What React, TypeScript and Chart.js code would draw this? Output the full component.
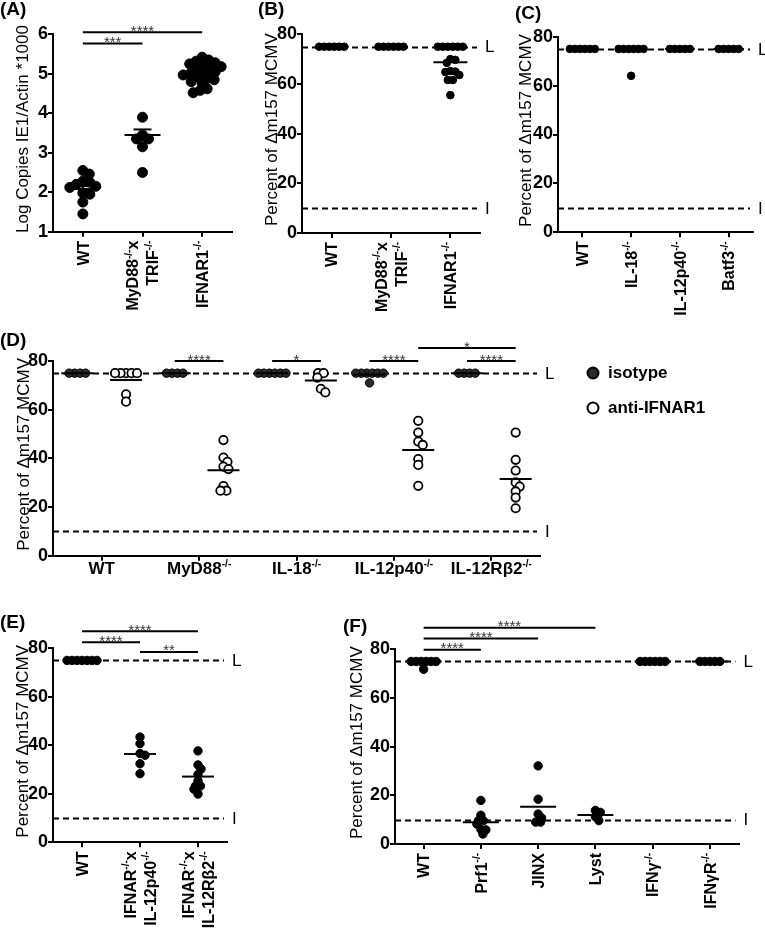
import React, { useEffect, useRef } from "react";
import { Chart, registerables } from "chart.js";
Chart.register(...registerables);

const FONT = "'Liberation Sans', Arial, Helvetica, sans-serif";

// ---------------- data ----------------
// Panel A – Log copies IE1/Actin *1000
const catsA = ["WT", "MyD88{-/-}x|TRIF{-/-}", "IFNAR1{-/-}"];
const aWT = [2.55, 2.46, 2.28, 2.25, 2.2, 2.15, 2.12, 1.98, 1.95, 1.75, 1.45];
const aMyD88TRIF = [3.9, 3.45, 3.35, 3.35, 3.15, 2.5];
const aIFNAR1 = [5.42, 5.35, 5.32, 5.28, 5.25, 5.2, 5.18, 5.12, 5.1, 5.05, 5.02, 5.0, 4.97, 4.92, 4.88, 4.85, 4.8, 4.75, 4.62, 4.58, 4.52];
const meanA = [2.16, 3.45, 5.05];
const semA = [0.08, 0.14, 0.05];
const sigA: [number, number, number, string][] = [[1, 2, 5.77, "***"], [1, 3, 6.05, "****"]];

// Panel B
const catsB = ["WT", "MyD88{-/-}x|TRIF{-/-}", "IFNAR1{-/-}"];
const bWT = [75, 75, 75, 75, 75, 75];
const bMyD88TRIF = [75, 75, 75, 75, 75, 75];
const bIFNAR1 = [75, 75, 75, 75, 75, 75, 70, 69.7, 68.5, 65.2, 65, 64.8, 63.6, 61.6, 61.6, 55.5];
const meanB = [75, 75, 68.7];

// Panel C
const catsC = ["WT", "IL-18{-/-}", "IL-12p40{-/-}", "Batf3{-/-}"];
const cWT = [75, 75, 75, 75, 75, 75];
const cIL18 = [75, 75, 75, 75, 75, 75, 64];
const cIL12p40 = [75, 75, 75, 75, 75];
const cBatf3 = [75, 75, 75, 75, 75];
const meanC = [75, 74.2, 75, 75];

// Panel D
const catsD = ["WT", "MyD88{-/-}", "IL-18{-/-}", "IL-12p40{-/-}", "IL-12Rβ2{-/-}"];
const dIsotype = [
  [75, 75, 75, 75],
  [75, 75, 75, 75],
  [75, 75, 75, 75, 75, 75],
  [75, 75, 75, 75, 75, 75, 71],
  [75, 75, 75, 75],
];
const dAntiIFNAR1 = [
  [75, 75, 75, 75, 75, 66.3, 63.3],
  [47.5, 40.3, 38.6, 36.6, 35.6, 28.6, 26.7, 26.7],
  [75, 75, 73.2, 68.6, 67.1],
  [55.4, 50.6, 46.9, 45.5, 39.7, 37.3, 28.7],
  [50.6, 39.4, 35, 30.1, 28.4, 26.4, 23.9, 19.5],
];
const meanDIsotype = [75, 75, 75, 74.5, 75];
const meanDAnti = [72.2, 35.1, 72, 43.4, 31.5];
const sigD: [number, number, number, string][] = [
  [1.75, 2.25, 80, "****"],
  [2.75, 3.25, 80, "*"],
  [3.75, 4.25, 80, "****"],
  [4.75, 5.25, 80, "****"],
  [4.25, 5.25, 85.3, "*"],
];

// Panel E
const catsE = ["WT", "IFNAR{-/-}x|IL-12p40{-/-}", "IFNAR{-/-}x|IL-12Rβ2{-/-}"];
const eWT = [75, 75, 75, 75, 75, 75, 75];
const eIL12p40 = [43.4, 40.7, 36.6, 35.9, 32.4, 28.3];
const eIL12Rb2 = [37.7, 31.9, 30.2, 28.0, 25.4, 23.2, 23.2, 21.9, 19.9];
const meanE = [75, 36.4, 27.1];
const sigE: [number, number, number, string][] = [[1, 3, 87, "****"], [1, 2, 82.5, "****"], [2, 3, 78.5, "**"]];

// Panel F
const catsF = ["WT", "Prf1{-/-}", "JINX", "Lyst", "IFNγ{-/-}", "IFNγR{-/-}"];
const fWT = [75, 75, 75, 75, 75, 75, 71.8];
const fPrf1 = [17.9, 11.8, 9.6, 9.6, 8.2, 6.0, 5.8, 4.1];
const fJINX = [32.1, 18.4, 12.3, 10.7, 9.0, 9.0];
const fLyst = [13.8, 13.0, 11.2, 9.6];
const fIFNg = [75, 75, 75, 75, 75, 75];
const fIFNgR = [75, 75, 75, 75, 75];
const meanF = [75, 8.9, 15.3, 11.9, 75, 75];
const sigF: [number, number, number, string][] = [[1, 2, 79.8, "****"], [1, 3, 84.4, "****"], [1, 4, 88.9, "****"]];

const limitLines: [number, string][] = [[75, "L"], [10, "I"]];
const yTitleA = "Log Copies IE1/Actin *1000";
const yTitlePct = "Percent of Δm157 MCMV";

// ---------------- helpers ----------------
type Group = { cat: number; off: number; vals: number[]; mean: number; sem?: number; open?: boolean; fill?: string };
type Panel = {
  letter: string;
  letterXY: [number, number];
  canvas: [number, number, number, number];
  area: [number, number, number, number];
  yMin: number; yMax: number; yStep: number;
  cats: string[]; rotated: boolean;
  groups: Group[];
  dashed: [number, string][];
  sig: [number, number, number, string][];
  radius: number; minDist: number; meanHalf: number; capHalf?: number;
  title: string; titleOff: number;
  legend?: boolean;
};

function swarm(vals: number[], pxPerY: number, minDist: number): number[] {
  const idx = vals.map((_, i) => i).sort((a, b) => vals[b] - vals[a]);
  const placed: { x: number; y: number }[] = [];
  const offs = new Array(vals.length).fill(0);
  for (const i of idx) {
    const y = vals[i] * pxPerY;
    let chosen = 0;
    for (let k = 0; k < 600; k++) {
      const c = k === 0 ? 0 : (k % 2 ? 1 : -1) * Math.ceil(k / 2) * 0.5;
      if (placed.every((p) => Math.hypot(p.x - c, p.y - y) >= minDist - 1e-6)) { chosen = c; break; }
    }
    placed.push({ x: chosen, y });
    offs[i] = chosen;
  }
  const byVal = new Map<number, number[]>();
  vals.forEach((v, i) => { if (!byVal.has(v)) byVal.set(v, []); byVal.get(v)!.push(i); });
  byVal.forEach((ids) => {
    if (ids.length > 1) {
      const m = ids.reduce((s, i) => s + offs[i], 0) / ids.length;
      ids.forEach((i) => (offs[i] -= m));
    }
  });
  return offs;
}

function segs(s: string) {
  const out: { t: string; sup: boolean }[] = [];
  const re = /\{([^}]*)\}|([^{]+)/g;
  let m: RegExpExecArray | null;
  while ((m = re.exec(s))) {
    if (m[1] !== undefined) out.push({ t: m[1], sup: true });
    else out.push({ t: m[2], sup: false });
  }
  return out;
}
function fontOf(sup: boolean, size: number) {
  return `bold ${sup ? Math.round(size * 0.6) : size}px ${FONT}`;
}
function richWidth(ctx: CanvasRenderingContext2D, s: string, size: number) {
  let w = 0;
  for (const g of segs(s)) { ctx.font = fontOf(g.sup, size); w += ctx.measureText(g.t).width; }
  return w;
}
function drawRich(ctx: CanvasRenderingContext2D, s: string, x: number, y: number, size: number) {
  for (const g of segs(s)) {
    ctx.font = fontOf(g.sup, size);
    ctx.fillText(g.t, x, g.sup ? y - size * 0.42 : y);
    x += ctx.measureText(g.t).width;
  }
}

function decor(p: Panel) {
  return {
    id: "decor" + p.letter,
    beforeDatasetsDraw(chart: any) {
      const { ctx, chartArea: a, scales } = chart;
      const y = scales.y;
      ctx.save();
      ctx.strokeStyle = "#000";
      ctx.lineWidth = 2;
      ctx.setLineDash([6, 4]);
      for (const [v] of p.dashed) {
        const py = Math.round(y.getPixelForValue(v)) + 0.5;
        ctx.beginPath(); ctx.moveTo(a.left, py); ctx.lineTo(a.right - 3, py); ctx.stroke();
      }
      ctx.setLineDash([]);
      ctx.fillStyle = "#000";
      ctx.font = `17px ${FONT}`;
      ctx.textAlign = "left";
      ctx.textBaseline = "middle";
      for (const [v, lab] of p.dashed) ctx.fillText(lab, a.right + 5, y.getPixelForValue(v) + 1);
      ctx.restore();
    },
    afterDatasetsDraw(chart: any) {
      const { ctx, scales } = chart;
      const x = scales.x, y = scales.y;
      const line = (x1: number, y1: number, x2: number, y2: number) => {
        ctx.beginPath(); ctx.moveTo(x1, y1); ctx.lineTo(x2, y2); ctx.stroke();
      };
      ctx.save();
      ctx.strokeStyle = "#000";
      ctx.lineWidth = 2;
      for (const g of p.groups) {
        const px = x.getPixelForValue(g.cat + g.off);
        const py = y.getPixelForValue(g.mean);
        line(px - p.meanHalf, py, px + p.meanHalf, py);
        if (g.sem) {
          const cap = p.capHalf || 8;
          const y1 = y.getPixelForValue(g.mean + g.sem), y2 = y.getPixelForValue(g.mean - g.sem);
          line(px, y1, px, y2);
          line(px - cap, y1, px + cap, y1);
          line(px - cap, y2, px + cap, y2);
        }
      }
      for (const [c1, c2, v, s] of p.sig) {
        const x1 = x.getPixelForValue(c1), x2 = x.getPixelForValue(c2), py = y.getPixelForValue(v);
        ctx.strokeStyle = "#000";
        ctx.lineWidth = 2;
        line(x1, py, x2, py);
        ctx.fillStyle = "#333";
        ctx.font = `15px ${FONT}`;
        ctx.textAlign = "center";
        ctx.textBaseline = "alphabetic";
        ctx.fillText(s, (x1 + x2) / 2, py + 3.5);
      }
      ctx.restore();
    },
    afterDraw(chart: any) {
      const { ctx, chartArea: a, scales } = chart;
      const x = scales.x;
      ctx.save();
      ctx.fillStyle = "#000";
      ctx.textAlign = "left";
      ctx.textBaseline = "alphabetic";
      // category labels
      p.cats.forEach((lab, i) => {
        const px = x.getPixelForValue(i + 1);
        const lines = lab.split("|");
        if (p.rotated) {
          const size = 16;
          lines.forEach((ln, j) => {
            const cx = px + (j - (lines.length - 1) / 2) * 20;
            ctx.save();
            ctx.translate(cx, a.bottom + 9);
            ctx.rotate(-Math.PI / 2);
            const w = richWidth(ctx, ln, size);
            drawRich(ctx, ln, -w, size * 0.36, size);
            ctx.restore();
          });
        } else {
          const size = 17;
          const w = richWidth(ctx, lines[0], size);
          drawRich(ctx, lines[0], px - w / 2, a.bottom + 18, size);
        }
      });
      // y title
      ctx.save();
      ctx.translate(a.left - p.titleOff, (a.top + a.bottom) / 2 - 4);
      ctx.rotate(-Math.PI / 2);
      ctx.font = `17px ${FONT}`;
      ctx.textAlign = "center";
      ctx.textBaseline = "middle";
      ctx.fillText(p.title, 0, 0);
      ctx.restore();
      // panel letter
      ctx.font = `bold 19px ${FONT}`;
      ctx.fillText(`(${p.letter})`, p.letterXY[0], p.letterXY[1]);
      // legend
      if (p.legend) {
        const lx = a.right + 53;
        const items: [number, boolean, string][] = [[a.top + 12, false, "isotype"], [a.top + 47, true, "anti-IFNAR1"]];
        for (const [ly, open, txt] of items) {
          ctx.beginPath();
          ctx.arc(lx, ly, 5.5, 0, Math.PI * 2);
          ctx.fillStyle = open ? "#fff" : "#2b2b2b";
          ctx.fill();
          ctx.lineWidth = 2;
          ctx.strokeStyle = "#000";
          ctx.stroke();
          ctx.fillStyle = "#000";
          ctx.font = `bold 17px ${FONT}`;
          ctx.textBaseline = "middle";
          ctx.fillText(txt, lx + 15, ly);
        }
      }
      ctx.restore();
    },
  };
}

function PanelChart({ p }: { p: Panel }) {
  const ref = useRef<HTMLCanvasElement>(null);
  useEffect(() => {
    const [cx, cy, cw, ch] = p.canvas;
    const [l, t, r, b] = p.area;
    const xMin = 0.5, xMax = p.cats.length + 0.5;
    const pxX = (r - l) / (xMax - xMin);
    const pxY = (b - t) / (p.yMax - p.yMin);
    const datasets = p.groups.map((g) => {
      const offs = swarm(g.vals, pxY, p.minDist);
      return {
        data: g.vals.map((v, i) => ({ x: g.cat + g.off + offs[i] / pxX, y: v })),
        pointRadius: p.radius,
        pointHoverRadius: p.radius,
        backgroundColor: g.open ? "#ffffff" : g.fill || "#000000",
        borderColor: "#000000",
        borderWidth: g.open ? 1.8 : 1,
        clip: false as any,
      };
    });
    const grid = { drawOnChartArea: false, drawTicks: true, tickLength: 5, color: "#000", lineWidth: 2 };
    const border = { display: true, color: "#000", width: 2 };
    const chart = new Chart(ref.current!, {
      type: "scatter",
      data: { datasets },
      options: {
        animation: false,
        responsive: false,
        devicePixelRatio: 1,
        events: [],
        layout: { padding: { left: 0, top: t - cy, right: cx + cw - r, bottom: 0 } },
        plugins: { legend: { display: false }, tooltip: { enabled: false } },
        scales: {
          x: {
            type: "linear",
            min: xMin,
            max: xMax,
            afterBuildTicks: (s: any) => { s.ticks = p.cats.map((_, i) => ({ value: i + 1 })); },
            afterFit: (s: any) => { s.height = cy + ch - b; },
            ticks: { callback: () => "", autoSkip: false, maxRotation: 0, minRotation: 0 },
            grid,
            border,
          },
          y: {
            type: "linear",
            min: p.yMin,
            max: p.yMax,
            afterFit: (s: any) => { s.width = l - cx; },
            ticks: { stepSize: p.yStep, color: "#000", padding: 0, font: { family: FONT, size: 18, weight: "bold" } },
            grid,
            border,
          },
        },
      } as any,
      plugins: [decor(p)],
    });
    return () => chart.destroy();
  }, [p]);
  const [cx, cy, cw, ch] = p.canvas;
  return (
    <canvas ref={ref} width={cw} height={ch}
      style={{ position: "absolute", left: cx, top: cy, width: cw, height: ch }} />
  );
}

const panels: Panel[] = [
  {
    letter: "A", letterXY: [0, 15], canvas: [0, 0, 250, 330], area: [53, 34.3, 232, 231.7],
    yMin: 1, yMax: 6, yStep: 1, cats: catsA, rotated: true,
    groups: [
      { cat: 1, off: 0, vals: aWT, mean: meanA[0], sem: semA[0] },
      { cat: 2, off: 0, vals: aMyD88TRIF, mean: meanA[1], sem: semA[1] },
      { cat: 3, off: 0, vals: aIFNAR1, mean: meanA[2], sem: semA[2] },
    ],
    dashed: [], sig: sigA, radius: 5, minDist: 7, meanHalf: 18, capHalf: 9,
    title: yTitleA, titleOff: 30,
  },
  {
    letter: "B", letterXY: [8, 15], canvas: [250, 0, 255, 330], area: [302, 34.3, 480, 233],
    yMin: 0, yMax: 80, yStep: 20, cats: catsB, rotated: true,
    groups: [
      { cat: 1, off: 0, vals: bWT, mean: meanB[0] },
      { cat: 2, off: 0, vals: bMyD88TRIF, mean: meanB[1] },
      { cat: 3, off: 0, vals: bIFNAR1, mean: meanB[2] },
    ],
    dashed: limitLines, sig: [], radius: 3.8, minDist: 5, meanHalf: 17,
    title: yTitlePct, titleOff: 30,
  },
  {
    letter: "C", letterXY: [10, 19], canvas: [505, 0, 260, 330], area: [558, 36.7, 753, 232.3],
    yMin: 0, yMax: 80, yStep: 20, cats: catsC, rotated: true,
    groups: [
      { cat: 1, off: 0, vals: cWT, mean: meanC[0] },
      { cat: 2, off: 0, vals: cIL18, mean: meanC[1] },
      { cat: 3, off: 0, vals: cIL12p40, mean: meanC[2] },
      { cat: 4, off: 0, vals: cBatf3, mean: meanC[3] },
    ],
    dashed: limitLines, sig: [], radius: 3.8, minDist: 5, meanHalf: 15,
    title: yTitlePct, titleOff: 32,
  },
  {
    letter: "D", letterXY: [0, 46], canvas: [0, 300, 765, 300], area: [53, 361, 540, 555.7],
    yMin: 0, yMax: 80, yStep: 20, cats: catsD, rotated: false,
    groups: [
      ...dIsotype.map((v, i) => ({ cat: i + 1, off: -0.25, vals: v, mean: meanDIsotype[i], fill: "#2b2b2b" })),
      ...dAntiIFNAR1.map((v, i) => ({ cat: i + 1, off: 0.25, vals: v, mean: meanDAnti[i], open: true })),
    ],
    dashed: limitLines, sig: sigD, radius: 4.2, minDist: 5.5, meanHalf: 16,
    title: yTitlePct, titleOff: 29, legend: true,
  },
  {
    letter: "E", letterXY: [0, 28], canvas: [0, 600, 260, 333], area: [53, 648.3, 227, 842.3],
    yMin: 0, yMax: 80, yStep: 20, cats: catsE, rotated: true,
    groups: [
      { cat: 1, off: 0, vals: eWT, mean: meanE[0] },
      { cat: 2, off: 0, vals: eIL12p40, mean: meanE[1] },
      { cat: 3, off: 0, vals: eIL12Rb2, mean: meanE[2] },
    ],
    dashed: limitLines, sig: sigE, radius: 4.2, minDist: 5, meanHalf: 16,
    title: yTitlePct, titleOff: 30,
  },
  {
    letter: "F", letterXY: [63, 32], canvas: [280, 600, 485, 333], area: [395, 649.3, 738.5, 844],
    yMin: 0, yMax: 80, yStep: 20, cats: catsF, rotated: true,
    groups: [
      { cat: 1, off: 0, vals: fWT, mean: meanF[0] },
      { cat: 2, off: 0, vals: fPrf1, mean: meanF[1] },
      { cat: 3, off: 0, vals: fJINX, mean: meanF[2] },
      { cat: 4, off: 0, vals: fLyst, mean: meanF[3] },
      { cat: 5, off: 0, vals: fIFNg, mean: meanF[4] },
      { cat: 6, off: 0, vals: fIFNgR, mean: meanF[5] },
    ],
    dashed: limitLines, sig: sigF, radius: 4.2, minDist: 5, meanHalf: 18,
    title: yTitlePct, titleOff: 38,
  },
];

export default function App() {
  return (
    <div style={{ position: "absolute", left: 0, top: 0, width: 765, height: 933, background: "#fff", overflow: "hidden" }}>
      {panels.map((p) => (
        <PanelChart key={p.letter} p={p} />
      ))}
    </div>
  );
}
